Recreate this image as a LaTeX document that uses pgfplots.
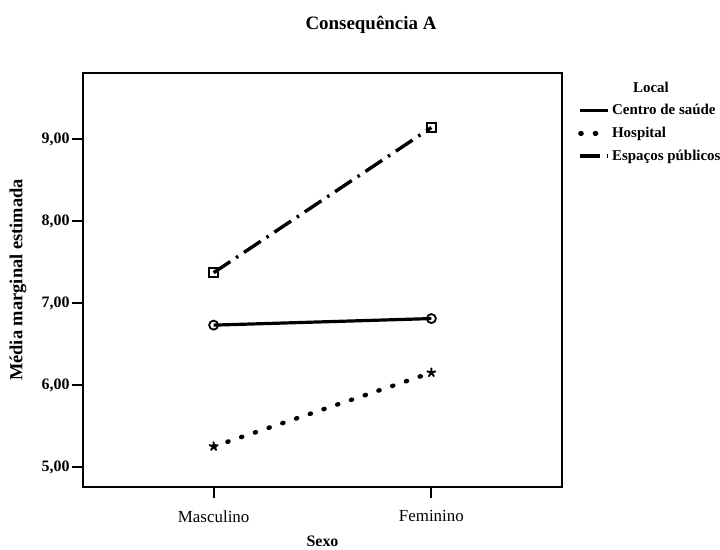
\documentclass[border=0pt]{standalone}
\usepackage{fontspec}
\setmainfont{Liberation Serif}
\usepackage{pgfplots}
\pgfplotsset{compat=1.18}

\begin{document}
\begin{tikzpicture}[x=1bp,y=1bp]
\path[use as bounding box] (0,0) rectangle (720,550);

\begin{axis}[
  at={(83bp,63bp)}, anchor=south west,
  scale only axis, width=479bp, height=414bp,
  xmin=0.4, xmax=2.6,
  ymin=4.756, ymax=9.805,
  xtick={1,2}, xticklabels={Masculino,Feminino},
  ytick={5,6,7,8,9},
  /pgf/number format/assume math mode=true,
  yticklabel style={/pgf/number format/.cd, fixed, fixed zerofill, precision=2, use comma,
    /tikz/.cd, font=\bfseries\fontsize{16}{18}\selectfont, xshift=1bp},
  xticklabel style={font=\fontsize{17}{19}\selectfont, yshift=-9bp},
  tick pos=left, tick align=outside,
  major tick length=11bp,
  tick style={line width=1.8bp, black},
  axis line style={line width=2.2bp},
  xlabel={Sexo},
  xlabel style={at={(axis description cs:0.5,0)}, anchor=center, yshift=-54bp,
    font=\bfseries\fontsize{16}{18}\selectfont},
  ylabel={Média marginal estimada},
  ylabel style={at={(axis description cs:-0.1357,0.5)}, anchor=center,
    font=\bfseries\fontsize{18.5}{20}\selectfont},
  legend style={at={(axis description cs:1.0334,0.928)}, anchor=north west,
    draw=none, fill=none, inner sep=0pt, row sep=8bp,
    font=\bfseries\fontsize{15}{17}\selectfont,
    nodes={inner sep=1.5bp}},
  legend cell align=left,
  legend image code/.code={\draw[#1, mark=none] (0bp,0bp) -- (28bp,0bp);},
]
% Centro de saude
\addplot[black, line width=3.2bp, mark=o, mark size=4.5bp,
  mark options={solid, line width=1.8bp, fill=white}]
  coordinates {(1,6.73) (2,6.81)};
\addlegendentry{Centro de saúde}
% Hospital
\addplot[black, line width=4.4bp, line cap=round, dash pattern=on 1.2bp off 13.3bp,
  mark=star, mark size=4.2bp, mark options={solid, line width=2bp}]
  coordinates {(1,5.25) (2,6.15)};
\addlegendentry{Hospital}
% Espacos publicos
\addplot[black, line width=3.4bp, dash pattern=on 20bp off 7bp on 2.5bp off 7bp,
  mark=square, mark size=4.5bp, mark options={solid, line width=1.8bp, fill=white}]
  coordinates {(1,7.37) (2,9.14)};
\addlegendentry{Espaços públicos}
\end{axis}

\node[font=\bfseries\fontsize{19}{21}\selectfont] at (371,525) {Consequência A};
\node[font=\bfseries\fontsize{15}{17}\selectfont] at (651,463) {Local};
\end{tikzpicture}
\end{document}
